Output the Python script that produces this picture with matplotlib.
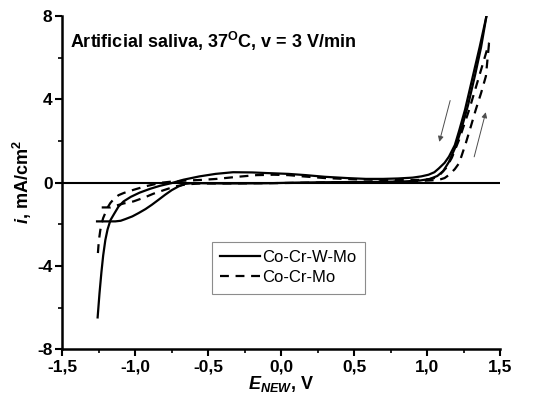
import numpy as np
import matplotlib
matplotlib.use('Agg')
import matplotlib.pyplot as plt

plt.rcParams['font.family'] = ['Liberation Sans', 'DejaVu Sans']
plt.rcParams['axes.unicode_minus'] = False
plt.rcParams['mathtext.fontset'] = 'custom'
plt.rcParams['mathtext.rm'] = 'Liberation Sans'
plt.rcParams['mathtext.it'] = 'Liberation Sans:italic'
plt.rcParams['mathtext.bf'] = 'Liberation Sans:bold'
plt.rcParams['mathtext.bfit'] = 'Liberation Sans:italic:bold'

# Co-Cr-W-Mo, branch with the hump (reverse scan)
wmo_rev_E = [-1.258, -1.245, -1.232, -1.22, -1.205, -1.19, -1.17, -1.145, -1.115, -1.08,
             -1.03, -0.97, -0.9, -0.83, -0.75, -0.67, -0.56, -0.45, -0.33, -0.2,
             -0.1, 0.05, 0.17, 0.3, 0.45, 0.58, 0.7, 0.8, 0.9, 0.96,
             1.01, 1.05, 1.08, 1.12, 1.15, 1.19, 1.22, 1.26, 1.31, 1.36, 1.407]
wmo_rev_i = [-6.47, -5.3, -4.3, -3.5, -2.75, -2.25, -1.8, -1.5, -1.15, -0.9,
             -0.68, -0.48, -0.3, -0.15, -0.02, 0.14, 0.30, 0.42, 0.50, 0.49,
             0.46, 0.42, 0.36, 0.28, 0.22, 0.18, 0.18, 0.2, 0.24, 0.3,
             0.38, 0.5, 0.68, 0.95, 1.25, 1.8, 2.5, 3.5, 5.0, 6.5, 8.0]
# Co-Cr-W-Mo, forward scan
wmo_fwd_E = [-1.262, -1.2, -1.137, -1.1, -1.068, -1.02, -0.977, -0.93, -0.886, -0.84,
             -0.795, -0.75, -0.703, -0.66, -0.6, -0.53, -0.4, -0.3, -0.1, 0.1,
             0.3, 0.5, 0.7, 0.85, 0.95, 1.02, 1.07, 1.11, 1.15, 1.2,
             1.24, 1.28, 1.33, 1.37, 1.407]
wmo_fwd_i = [-1.86, -1.86, -1.86, -1.83, -1.75, -1.62, -1.46, -1.27, -1.06, -0.82,
             -0.58, -0.36, -0.18, -0.06, -0.02, -0.03, -0.04, -0.04, -0.03, 0.0,
             0.02, 0.03, 0.04, 0.06, 0.1, 0.18, 0.32, 0.55, 1.0, 1.8,
             2.7, 3.7, 5.2, 6.5, 8.0]

# Co-Cr-Mo, branch with the hump (reverse scan)
mo_rev_E = [-1.256, -1.252, -1.246, -1.24, -1.232, -1.22, -1.205, -1.19, -1.171, -1.145,
            -1.114, -1.08, -1.046, -1.0, -0.932, -0.87, -0.817, -0.75, -0.65, -0.55,
            -0.44, -0.3, -0.17, -0.05, 0.05, 0.15, 0.3, 0.5, 0.7, 0.9,
            1.0, 1.05, 1.09, 1.13, 1.17, 1.22, 1.289, 1.357, 1.425]
mo_rev_i = [-3.38, -3.0, -2.6, -2.3, -2.0, -1.7, -1.45, -1.2, -0.98, -0.77,
            -0.6, -0.5, -0.42, -0.32, -0.18, -0.08, 0.0, 0.05, 0.1, 0.13,
            0.18, 0.28, 0.36, 0.38, 0.36, 0.3, 0.22, 0.16, 0.13, 0.12,
            0.15, 0.22, 0.4, 0.7, 1.2, 2.07, 3.51, 5.11, 6.72]
# Co-Cr-Mo, forward scan
mo_fwd_E = [-1.23, -1.17, -1.13, -1.08, -1.012, -0.94, -0.875, -0.8, -0.726, -0.65,
            -0.55, -0.4, -0.2, 0.0, 0.2, 0.4, 0.6, 0.8, 0.95, 1.03,
            1.083, 1.12, 1.152, 1.19, 1.22, 1.266, 1.3, 1.334, 1.37, 1.403, 1.425]
mo_fwd_i = [-1.19, -1.19, -1.1, -1.0, -0.9, -0.72, -0.53, -0.35, -0.18, -0.08,
            -0.04, -0.04, -0.03, -0.02, 0.0, 0.02, 0.03, 0.05, 0.08, 0.11,
            0.14, 0.22, 0.38, 0.65, 0.94, 1.91, 2.7, 3.51, 4.3, 5.11, 6.72]

labels = ['Co-Cr-W-Mo', 'Co-Cr-Mo']
x_ticks = [-1.5, -1.0, -0.5, 0.0, 0.5, 1.0, 1.5]
x_ticklabels = ['-1,5', '-1,0', '-0,5', '0,0', '0,5', '1,0', '1,5']
y_ticks = [-8, -4, 0, 4, 8]

# scan direction arrows (start, end)
arrow_down = [(1.163, 4.07), (1.079, 1.83)]
arrow_up = [(1.318, 1.11), (1.407, 3.51)]

fig = plt.figure(figsize=(5.4, 4.0), dpi=100)
ax = fig.add_axes([0.1154, 0.1268, 0.8106, 0.8332])

ax.axhline(0, color='black', lw=1.5)
ax.plot(wmo_rev_E, wmo_rev_i, color='black', lw=1.6, label=labels[0])
ax.plot(wmo_fwd_E, wmo_fwd_i, color='black', lw=1.6)
ax.plot(mo_rev_E, mo_rev_i, color='black', lw=1.6, ls=(0, (4, 3)), label=labels[1])
ax.plot(mo_fwd_E, mo_fwd_i, color='black', lw=1.6, ls=(0, (4, 3)))

for a in (arrow_down, arrow_up):
    ax.annotate('', xy=a[1], xytext=a[0],
                arrowprops=dict(arrowstyle='-|>', color='0.3', lw=0.7, mutation_scale=8))

ax.set_xlim(-1.5, 1.5)
ax.set_ylim(-8, 8)
ax.set_xticks(x_ticks)
ax.set_xticklabels(x_ticklabels)
ax.set_yticks(y_ticks)
ax.set_xticks(np.arange(-1.5, 1.51, 0.25), minor=True)
ax.set_yticks(np.arange(-8, 8.1, 2), minor=True)
ax.tick_params(which='major', length=5, width=1.5, labelsize=12.5, pad=2)
ax.tick_params(which='minor', length=3, width=1.2)
for lab in ax.get_xticklabels() + ax.get_yticklabels():
    lab.set_fontweight('bold')

for s in ['top', 'right']:
    ax.spines[s].set_visible(False)
for s in ['left', 'bottom']:
    ax.spines[s].set_linewidth(1.8)

ax.text(0.018, 0.958, r'Artificial saliva, 37$^{\mathbf{O}}$C, v = 3 V/min',
        transform=ax.transAxes, fontsize=13, fontweight='bold', va='top', ha='left')

ax.set_xlabel(r'$\mathbfit{E}_{\mathbfit{NEW}}$, V', fontsize=13, fontweight='bold', labelpad=0)
ax.set_ylabel(r'$\mathbfit{i}$, mA/cm$^{\mathbf{2}}$', fontsize=13, fontweight='bold', labelpad=2)

leg = ax.legend(loc='upper left', bbox_to_anchor=(0.342, 0.322), borderaxespad=0,
                fontsize=12, fancybox=False, framealpha=1, edgecolor='0.55',
                handlelength=2.4, handletextpad=0.1, borderpad=0.5, labelspacing=0.3)
leg.get_frame().set_linewidth(0.8)

fig.savefig('out.png', dpi=100)
